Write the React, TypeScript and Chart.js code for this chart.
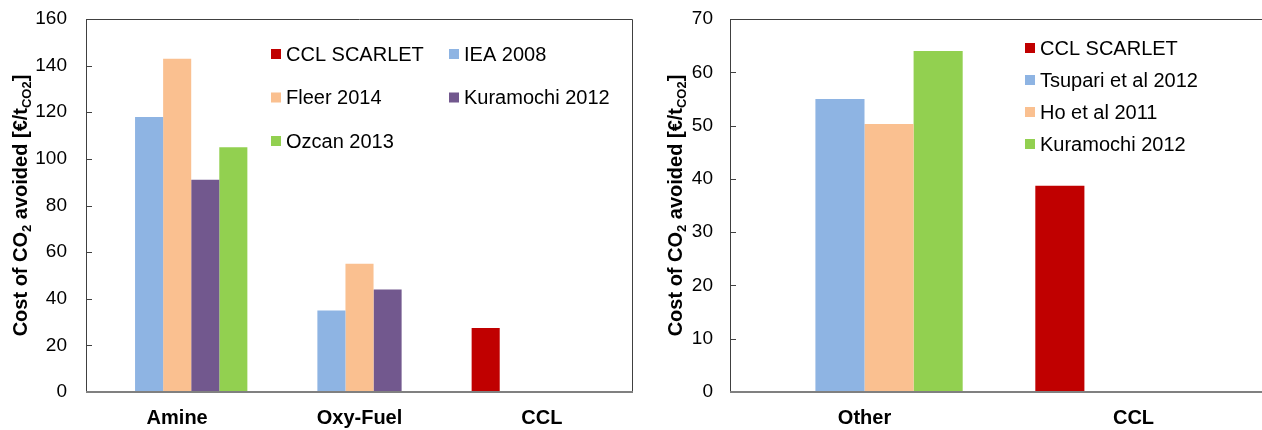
import React, { useEffect, useRef } from "react";
import { Chart, registerables } from "chart.js";

Chart.register(...registerables);

// ---------- Data ----------
const leftCategories = ["Amine", "Oxy-Fuel", "CCL"];
const leftSeriesNames = ["CCL SCARLET", "IEA 2008", "Fleer 2014", "Kuramochi 2012", "Ozcan 2013"];
const leftCclScarlet = [null, null, 27.5];
const leftIea2008 = [118, 35, null];
const leftFleer2014 = [143, 55, null];
const leftKuramochi2012 = [91, 44, null];
const leftOzcan2013 = [105, null, null];
const leftTicksMax = 160;
const leftTickStep = 20;

const rightCategories = ["Other", "CCL"];
const rightSeriesNames = ["CCL SCARLET", "Tsupari et al 2012", "Ho et al 2011", "Kuramochi 2012"];
const rightCclScarlet = [null, 38.7];
const rightTsupari2012 = [55, null];
const rightHo2011 = [50.3, null];
const rightKuramochi2012 = [64, null];
const rightTicksMax = 70;
const rightTickStep = 10;

const leftColors = ["#C00000", "#8EB4E3", "#FAC090", "#72588E", "#92D050"];
const rightColors = ["#C00000", "#8EB4E3", "#FAC090", "#92D050"];

const FONT = "'Liberation Sans', Arial, Helvetica, sans-serif";

// ---------- Plugins ----------
const framePlugin = {
  id: "frame",
  afterDatasetsDraw(chart: any) {
    const { ctx, chartArea } = chart;
    const { left, right, top, bottom } = chartArea;
    const y = chart.scales.y;
    ctx.save();
    ctx.strokeStyle = "#404040";
    ctx.lineWidth = 1;
    ctx.beginPath();
    ctx.moveTo(left + 0.5, bottom);
    ctx.lineTo(left + 0.5, top + 0.5);
    ctx.lineTo(right - 0.5, top + 0.5);
    ctx.lineTo(right - 0.5, bottom);
    ctx.stroke();
    // inner tick marks
    ctx.beginPath();
    y.ticks.forEach((t: any) => {
      if (t.value === 0) return;
      const py = Math.round(y.getPixelForValue(t.value)) + 0.5;
      ctx.moveTo(left, py);
      ctx.lineTo(left + 6, py);
    });
    ctx.stroke();
    // bottom axis
    ctx.strokeStyle = "#808080";
    ctx.lineWidth = 2;
    ctx.beginPath();
    ctx.moveTo(left, bottom);
    ctx.lineTo(right, bottom);
    ctx.stroke();
    ctx.restore();
  },
};

const yTitlePlugin = {
  id: "yTitleSub",
  afterDraw(chart: any, _args: any, opts: any) {
    const { ctx, chartArea } = chart;
    const cy = (chartArea.top + chartArea.bottom) / 2;
    const size = 20;
    const subSize = 13;
    const segs = [
      { t: "Cost of CO", sub: false },
      { t: "2", sub: true },
      { t: " avoided [€/t", sub: false },
      { t: "CO2", sub: true },
      { t: "]", sub: false },
    ];
    ctx.save();
    let total = 0;
    const widths = segs.map((s) => {
      ctx.font = `bold ${s.sub ? subSize : size}px ${FONT}`;
      const w = ctx.measureText(s.t).width;
      total += w;
      return w;
    });
    ctx.translate(opts.x, cy);
    ctx.rotate(-Math.PI / 2);
    ctx.fillStyle = "#000";
    ctx.textBaseline = "alphabetic";
    ctx.textAlign = "left";
    let x = -total / 2;
    segs.forEach((s, i) => {
      ctx.font = `bold ${s.sub ? subSize : size}px ${FONT}`;
      ctx.fillText(s.t, x, s.sub ? 7 + 4 : 7);
      x += widths[i];
    });
    ctx.restore();
  },
};

const boxLegendPlugin = {
  id: "boxLegend",
  afterDraw(chart: any, _args: any, opts: any) {
    const { ctx } = chart;
    ctx.save();
    ctx.font = `20px ${FONT}`;
    ctx.textBaseline = "middle";
    ctx.textAlign = "left";
    chart.data.datasets.forEach((ds: any, i: number) => {
      const col = i % opts.cols;
      const row = Math.floor(i / opts.cols);
      const x = opts.x + col * opts.colW;
      const y = opts.y + row * opts.rowH;
      ctx.fillStyle = ds.backgroundColor;
      ctx.fillRect(x, y - 5, 10, 10);
      ctx.fillStyle = "#000";
      ctx.fillText(ds.label, x + 15, y + 1);
    });
    ctx.restore();
  },
};

function makeConfig(
  categories: string[],
  names: string[],
  series: (number | null)[][],
  colors: string[],
  max: number,
  step: number,
  axisWidth: number,
  catPct: number,
  padRight: number,
  tickPad: number,
  titleX: number,
  legend: any
): any {
  return {
    type: "bar",
    data: {
      labels: categories,
      datasets: series.map((d, i) => ({
        label: names[i],
        data: d,
        backgroundColor: colors[i],
        borderWidth: 0,
        categoryPercentage: catPct,
        barPercentage: 1,
      })),
    },
    options: {
      responsive: false,
      animation: false,
      layout: { padding: { top: 19, right: padRight, left: 0, bottom: 0 } },
      plugins: {
        legend: { display: false },
        tooltip: { enabled: false },
        yTitleSub: { x: titleX },
        boxLegend: legend,
      },
      scales: {
        x: {
          grid: { display: false },
          border: { display: false },
          ticks: {
            color: "#000",
            font: { family: FONT, size: 20, weight: "bold" },
            padding: 6,
          },
          afterFit(scale: any) {
            scale.height = 38;
          },
        },
        y: {
          min: 0,
          max: max,
          grid: { display: false, drawTicks: false },
          border: { display: false },
          ticks: {
            stepSize: step,
            color: "#000",
            font: { family: FONT, size: 19 },
            padding: tickPad,
          },
          afterFit(scale: any) {
            scale.width = axisWidth;
            scale.paddingTop = 0;
            scale.paddingBottom = 0;
          },
        },
      },
    },
    plugins: [framePlugin, yTitlePlugin, boxLegendPlugin],
  };
}

function ChartCanvas({ config, width, height, left }: any) {
  const ref = useRef<HTMLCanvasElement>(null);
  useEffect(() => {
    if (!ref.current) return;
    const chart = new Chart(ref.current, config);
    return () => chart.destroy();
  }, [config]);
  return (
    <canvas
      ref={ref}
      width={width}
      height={height}
      style={{ position: "absolute", left, top: 0, width, height }}
    />
  );
}

const leftConfig = makeConfig(
  leftCategories,
  leftSeriesNames,
  [leftCclScarlet, leftIea2008, leftFleer2014, leftKuramochi2012, leftOzcan2013],
  leftColors,
  leftTicksMax,
  leftTickStep,
  86,
  0.77,
  1,
  19,
  20,
  { x: 271, y: 54, colW: 178, rowH: 43.5, cols: 2 }
);

const rightConfig = makeConfig(
  rightCategories,
  rightSeriesNames,
  [rightCclScarlet, rightTsupari2012, rightHo2011, rightKuramochi2012],
  rightColors,
  rightTicksMax,
  rightTickStep,
  90,
  0.73,
  2,
  17,
  35,
  { x: 1025 - 640, y: 48, colW: 0, rowH: 32, cols: 1 }
);

export default function App() {
  return (
    <div
      style={{
        position: "fixed",
        left: 0,
        top: 0,
        width: 1262,
        height: 430,
        overflow: "hidden",
        background: "#fff",
      }}
    >
      <ChartCanvas config={leftConfig} width={634} height={430} left={0} />
      <ChartCanvas config={rightConfig} width={630} height={430} left={640} />
    </div>
  );
}
